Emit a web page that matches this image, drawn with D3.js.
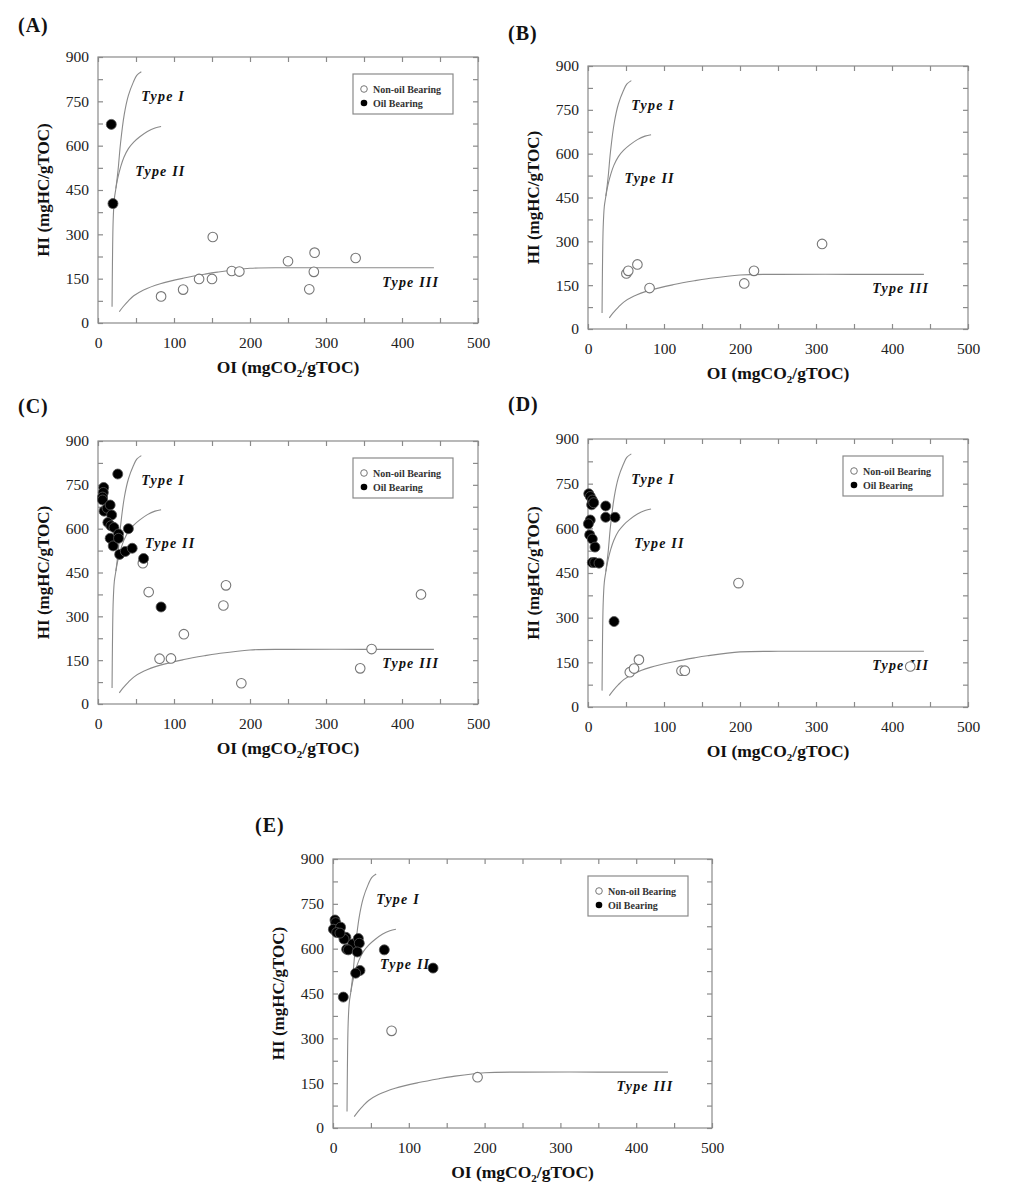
<!DOCTYPE html>
<html><head><meta charset="utf-8">
<script src="https://cdn.jsdelivr.net/npm/d3@7"></script>
<style>body{margin:0;background:#fff}</style>
</head><body>
<svg id="chart" width="1022" height="1197" xmlns="http://www.w3.org/2000/svg"></svg>
<script>
// ---------- tick labels ----------
const xTickLabels = [0, 100, 200, 300, 400, 500];
const xMinorTicks = [0, 50, 100, 150, 200, 250, 300, 350, 400, 450, 500];
const yTickLabels = [0, 150, 300, 450, 600, 750, 900];
const yMinorTicks = [0, 75, 150, 225, 300, 375, 450, 525, 600, 675, 750, 825, 900];
const xDomain = [0, 500];
const yDomain = [0, 900];
const legendLabels = ["Non-oil Bearing", "Oil Bearing"];
const panelNames = ["(A)", "(B)", "(C)", "(D)", "(E)"];

// ---------- kerogen type reference curves [OI, HI] ----------
const typeICurve = [[18.5,55],[19,200],[20,350],[21.5,420],[23.5,455],[26.5,520],[29.5,605],[34.5,705],[40,770],[46.5,815],[51,838],[57,850]];
const typeIICurve = [[23.5,455],[26,490],[30,530],[34,560],[40,590],[47,612],[55,630],[65,648],[75,660],[83,665]];
const typeIIICurve = [[28,38],[33,55],[40,75],[47,92],[60,112],[82,133],[113,152],[140,165],[157,172],[200,185],[250,187],[350,187],[442,187]];
const curveLabels = ["Type I", "Type II", "Type III"];

// ---------- panel A ----------
const aNonOil = [[83,90],[112,113],[133,149],[150,149],[151,291],[176,176],[186,174],[250,209],[285,238],[284,173],[278,114],[339,220]];
const aOil = [[17.5,672],[19.7,404]];
// ---------- panel B ----------
const bNonOil = [[50.5,190],[53,199],[65,221],[81,140],[205.6,156],[218.4,199],[308,291]];
const bOil = [];
// ---------- panel C ----------
const cNonOil = [[59,482],[66.7,383],[113,239],[81,155],[96,156],[165,337],[168.4,406],[188.6,71],[345,122],[360,188],[425,375]];
const cOil = [[26,787],[7.5,741],[7,724],[6,708],[6,698],[8,660],[12,670],[16,681],[18,647],[13,621],[17,610],[21,604],[40,600],[16,567],[20,541],[27,582],[27,567],[28.5,512],[36,522],[45,533],[60,498],[83,332]];
// ---------- panel D ----------
const dNonOil = [[55,117],[60.6,129],[67,159],[123,122],[127.4,122],[198,416],[424,136]];
const dOil = [[1,716],[3,707],[5.7,695],[4.8,679],[7.5,686],[23.3,675],[23.3,637],[35.6,637],[3,628],[0.5,615],[2.2,578],[5.7,564],[9.2,537],[5.7,485],[8.8,485],[14.5,483],[34.3,287]];
// ---------- panel E ----------
const eNonOil = [[77.3,325],[190.7,170]];
const eOil = [[2.6,696],[3.5,687],[0.5,665],[10,672],[4.8,654],[17,638],[14.5,632],[26,616],[33.4,634],[34.7,618],[18,598],[20.2,596],[32,589],[67.7,596],[35.6,527],[29.9,518],[132,535],[13.6,438],[9.2,652]];

// ---------- layout (pixels) ----------
const layout = [
  {name: panelNames[0], left: 98,  top: 57,  w: 380, h: 266, lx: 18,  ly: 32,  non: aNonOil, oil: aOil, legend: true,  t2: [49, 515]},
  {name: panelNames[1], left: 588, top: 66,  w: 380, h: 263, lx: 508, ly: 40,  non: bNonOil, oil: bOil, legend: false, t2: [48, 517]},
  {name: panelNames[2], left: 98,  top: 441, w: 380, h: 263, lx: 18,  ly: 413, non: cNonOil, oil: cOil, legend: true,  t2: [62, 550]},
  {name: panelNames[3], left: 588, top: 439, w: 380, h: 268, lx: 508, ly: 411, non: dNonOil, oil: dOil, legend: true,  t2: [61, 550]},
  {name: panelNames[4], left: 333, top: 859, w: 379, h: 269, lx: 255, ly: 832, non: eNonOil, oil: eOil, legend: true,  t2: [62, 548]}
];

const FONT = "'Liberation Serif','Times New Roman',serif";
const AXIS = "#8a8a8a";
const CURVE = "#8a8a8a";
const svg = d3.select("#chart");

layout.forEach(p => {
  const x = d3.scaleLinear().domain(xDomain).range([p.left, p.left + p.w]);
  const y = d3.scaleLinear().domain(yDomain).range([p.top + p.h, p.top]);
  const g = svg.append("g");

  // panel label
  g.append("text").attr("x", p.lx).attr("y", p.ly).text(p.name)
    .attr("font-family", FONT).attr("font-weight", "bold").attr("font-size", 20)
    .attr("letter-spacing", 1).attr("fill", "#111");

  // frame
  g.append("rect").attr("x", p.left).attr("y", p.top).attr("width", p.w).attr("height", p.h)
    .attr("fill", "none").attr("stroke", AXIS).attr("stroke-width", 1.2);

  // axes with inward ticks
  const tl = 5;
  const bottom = d3.axisBottom(x).tickValues(xMinorTicks).tickSize(-tl).tickFormat("");
  const top = d3.axisTop(x).tickValues(xMinorTicks).tickSize(-tl).tickFormat("");
  const leftA = d3.axisLeft(y).tickValues(yMinorTicks).tickSize(-tl).tickFormat("");
  const rightA = d3.axisRight(y).tickValues(yMinorTicks).tickSize(-tl).tickFormat("");
  [[bottom, `translate(0,${p.top + p.h})`], [top, `translate(0,${p.top})`],
   [leftA, `translate(${p.left},0)`], [rightA, `translate(${p.left + p.w},0)`]].forEach(([ax, tr]) => {
    const a = g.append("g").attr("transform", tr).call(ax);
    a.select(".domain").remove();
    a.selectAll("line").attr("stroke", AXIS).attr("stroke-width", 1.2);
  });

  // tick labels
  const xl = d3.axisBottom(x).tickValues(xTickLabels).tickSize(0).tickPadding(14).tickFormat(d3.format("d"));
  const xg = g.append("g").attr("transform", `translate(0,${p.top + p.h})`).call(xl);
  xg.select(".domain").remove();
  xg.selectAll("text").attr("font-family", FONT).attr("font-size", 15.5).attr("fill", "#222");
  const yl = d3.axisLeft(y).tickValues(yTickLabels).tickSize(0).tickPadding(9).tickFormat(d3.format("d"));
  const yg = g.append("g").attr("transform", `translate(${p.left},0)`).call(yl);
  yg.select(".domain").remove();
  yg.selectAll("text").attr("font-family", FONT).attr("font-size", 15.5).attr("fill", "#222");

  // axis titles
  const xt = g.append("text").attr("x", p.left + p.w / 2).attr("y", p.top + p.h + 50)
    .attr("text-anchor", "middle").attr("font-family", FONT).attr("font-weight", "bold")
    .attr("font-size", 17.5).attr("fill", "#111");
  xt.append("tspan").text("OI (mgCO");
  xt.append("tspan").text("2").attr("font-size", 11).attr("dy", 4);
  xt.append("tspan").text("/gTOC)").attr("dy", -4);
  g.append("text").attr("transform", `translate(${p.left - 49},${p.top + p.h / 2}) rotate(-90)`)
    .attr("text-anchor", "middle").attr("font-family", FONT).attr("font-weight", "bold")
    .attr("font-size", 17).attr("fill", "#111").text("HI (mgHC/gTOC)");

  // reference curves
  const line = d3.line().x(d => x(d[0])).y(d => y(d[1])).curve(d3.curveCatmullRom);
  [typeICurve, typeIICurve, typeIIICurve].forEach(c => {
    g.append("path").attr("d", line(c)).attr("fill", "none").attr("stroke", CURVE).attr("stroke-width", 1.1);
  });
  const labPos = [[57, 767], p.t2, [374, 140]];
  curveLabels.forEach((t, i) => {
    g.append("text").attr("x", x(labPos[i][0])).attr("y", y(labPos[i][1]) + 5).text(t)
      .attr("font-family", FONT).attr("font-weight", "bold").attr("font-style", "italic")
      .attr("font-size", 14).attr("letter-spacing", 1.2).attr("fill", "#111");
  });

  // points
  g.append("g").selectAll("circle").data(p.non).join("circle")
    .attr("cx", d => x(d[0])).attr("cy", d => y(d[1])).attr("r", 4.8)
    .attr("fill", "#fff").attr("stroke", "#777").attr("stroke-width", 1.1);
  g.append("g").selectAll("circle").data(p.oil).join("circle")
    .attr("cx", d => x(d[0])).attr("cy", d => y(d[1])).attr("r", 5)
    .attr("fill", "#000").attr("stroke", "#555").attr("stroke-width", 0.8);

  // legend
  if (p.legend) {
    const lg = g.append("g").attr("transform", `translate(${p.left + 255},${p.top + 17})`);
    lg.append("rect").attr("width", 100).attr("height", 40).attr("fill", "#fff")
      .attr("stroke", AXIS).attr("stroke-width", 1.2);
    lg.append("circle").attr("cx", 11).attr("cy", 15).attr("r", 3.3).attr("fill", "#fff").attr("stroke", "#777");
    lg.append("circle").attr("cx", 11).attr("cy", 29).attr("r", 3.3).attr("fill", "#000");
    legendLabels.forEach((t, i) => {
      lg.append("text").attr("x", 20).attr("y", 18.5 + i * 14).text(t)
        .attr("font-family", FONT).attr("font-weight", "bold").attr("font-size", 10).attr("fill", "#333");
    });
  }
});
</script>
</body></html>
